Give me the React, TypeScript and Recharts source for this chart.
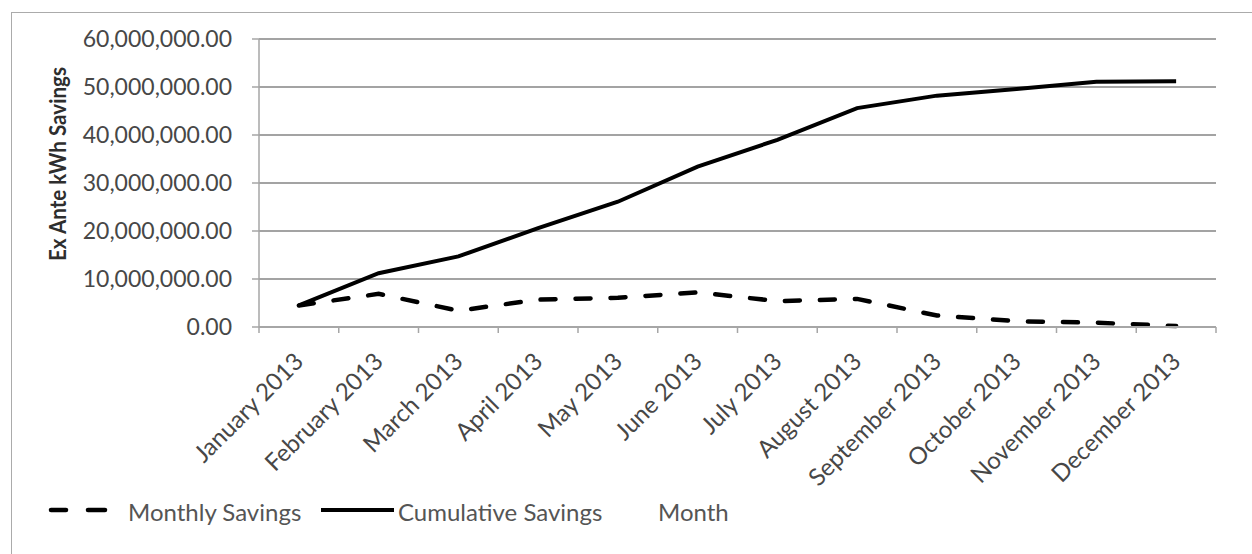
import React from 'react'
import { LineChart, Line, XAxis, YAxis, CartesianGrid, Legend } from 'recharts'

const months = [
  'January 2013', 'February 2013', 'March 2013', 'April 2013',
  'May 2013', 'June 2013', 'July 2013', 'August 2013',
  'September 2013', 'October 2013', 'November 2013', 'December 2013',
]

// ex ante kWh saved in each month
const monthlySavings = [
  4500000, 6900000, 3400000, 5700000, 6100000, 7200000,
  5400000, 5850000, 2400000, 1200000, 900000, 200000,
]

// running total of kWh saved
const cumulativeSavings = [
  4500000, 11200000, 14700000, 20600000, 26100000, 33400000,
  39000000, 45600000, 48200000, 49600000, 51100000, 51200000,
]

const yTicks = [0, 10000000, 20000000, 30000000, 40000000, 50000000, 60000000]

const data = months.map((month, i) => ({
  month,
  monthly: monthlySavings[i],
  cumulative: cumulativeSavings[i],
}))

const FONT = 'Lato, "Open Sans", sans-serif'
const AXIS_GRAY = '#a6a6a6'

const fmt = (v: number) =>
  v.toLocaleString('en-US', { minimumFractionDigits: 2, maximumFractionDigits: 2 })

// rotated month label plus the tick marks that sit on the category edges
function MonthTick(props: any) {
  const { x, y, payload, index, width, visibleTicksCount } = props
  const band = width && visibleTicksCount ? width / visibleTicksCount : 79.75
  const left = x - band / 2
  const ax = x + 6
  const ay = y + 30
  return (
    <g>
      <line x1={left} x2={left} y1={y - 6} y2={y} stroke={AXIS_GRAY} strokeWidth={1.5} />
      {index === visibleTicksCount - 1 && (
        <line x1={x + band / 2} x2={x + band / 2} y1={y - 6} y2={y} stroke={AXIS_GRAY} strokeWidth={1.5} />
      )}
      <text
        x={ax}
        y={ay}
        transform={`rotate(-45 ${ax} ${ay})`}
        textAnchor="end"
        fontSize={24}
        fontFamily={FONT}
        fill="#474747"
      >
        {payload.value}
      </text>
    </g>
  )
}

const YTitle = () => (
  <text
    x={57}
    y={164}
    transform="rotate(-90 57 164)"
    textAnchor="middle"
    dominantBaseline="central"
    fontSize={22}
    fontWeight={700}
    fontFamily={FONT}
    fill="#2e2e2e"
    textLength={194}
    lengthAdjust="spacingAndGlyphs"
  >
    Ex Ante kWh Savings
  </text>
)

const XTitle = () => (
  <text x={658} y={521} fontSize={24} fontFamily={FONT} fill="#555">
    Month
  </text>
)

function SavingsLegend() {
  return (
    <svg width={1252} height={40} style={{ display: 'block' }}>
      <line x1={51} x2={66} y1={20} y2={20} stroke="#000" strokeWidth={4.5} strokeLinecap="round" />
      <line x1={88} x2={105} y1={20} y2={20} stroke="#000" strokeWidth={4.5} strokeLinecap="round" />
      <text x={128} y={31} fontSize={24} fontFamily={FONT} fill="#555">
        Monthly Savings
      </text>
      <line x1={321} x2={394} y1={20} y2={20} stroke="#000" strokeWidth={4} />
      <text x={398} y={31} fontSize={24} fontFamily={FONT} fill="#555">
        Cumulative Savings
      </text>
    </svg>
  )
}

export default function App() {
  return (
    <div style={{ position: 'absolute', left: 0, top: 0, width: 1252, height: 554, overflow: 'hidden', background: '#fff' }}>
      <div style={{ position: 'absolute', left: 11, top: 12, width: 1300, height: 600, border: '1.5px solid #ababab' }} />
      <div style={{ position: 'absolute', left: 0, top: 0 }}>
        <LineChart width={1252} height={554} data={data} margin={{ top: 39, right: 36, bottom: 0, left: 0 }}>
          <CartesianGrid vertical={false} stroke="#858585" strokeWidth={1.5} />
          <XAxis
            dataKey="month"
            scale="band"
            interval={0}
            height={227}
            tickSize={6}
            tickMargin={0}
            tickLine={false}
            axisLine={{ stroke: AXIS_GRAY, strokeWidth: 2 }}
            tick={<MonthTick />}
            label={{ content: <XTitle /> }}
          />
          <YAxis
            width={259}
            domain={[0, 60000000]}
            ticks={yTicks}
            interval={0}
            tickFormatter={fmt}
            tickSize={7}
            tickMargin={20}
            tick={{ fontSize: 23, fill: '#474747', fontFamily: FONT }}
            axisLine={{ stroke: AXIS_GRAY, strokeWidth: 1.5 }}
            tickLine={{ stroke: AXIS_GRAY, strokeWidth: 1.5 }}
            label={{ content: <YTitle /> }}
          />
          <Legend
            layout="horizontal"
            verticalAlign="middle"
            align="center"
            wrapperStyle={{ left: 0, top: 490, width: 1252, height: 40 }}
            content={<SavingsLegend />}
          />
          <Line
            type="linear"
            dataKey="monthly"
            name="Monthly Savings"
            stroke="#000"
            strokeWidth={4.5}
            strokeDasharray="15 20"
            strokeLinecap="round"
            dot={false}
            activeDot={false}
            isAnimationActive={false}
          />
          <Line
            type="linear"
            dataKey="cumulative"
            name="Cumulative Savings"
            stroke="#000"
            strokeWidth={4}
            dot={false}
            activeDot={false}
            isAnimationActive={false}
          />
        </LineChart>
      </div>
    </div>
  )
}
